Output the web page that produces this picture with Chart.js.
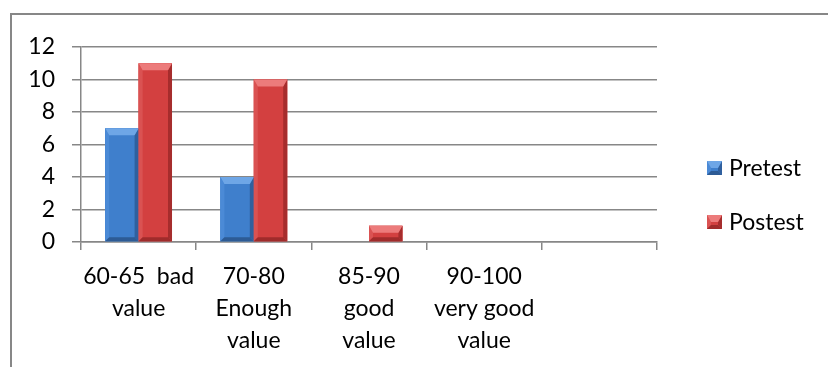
<!DOCTYPE html>
<html>
<head>
<meta charset="utf-8">
<script src="https://cdn.jsdelivr.net/npm/chart.js@4/dist/chart.umd.min.js"></script>
<style>
  html, body { margin: 0; padding: 0; background: #fff; }
  #wrap { position: relative; width: 828px; height: 367px; overflow: hidden; }
  #frame { position: absolute; left: 10px; top: 13px; width: 900px; height: 400px; border: 2px solid #878787; box-sizing: border-box; }
  canvas { position: absolute; left: 0; top: 0; }
</style>
</head>
<body>
<div id="wrap">
  <div id="frame"></div>
  <canvas id="chart" width="828" height="367"></canvas>
</div>
<script>
// chart data
const categories = [
    ['60-65  bad', 'value'],
    ['70-80', 'Enough', 'value'],
    ['85-90', 'good', 'value'],
    ['90-100', 'very good', 'value'],
    ''
];
const pretest = [7, 4, 0, 0, null];
const postest = [11, 10, 1, 0, null];
const yTicks = [0, 2, 4, 6, 8, 10, 12];

const FONT = 'Lato, "Open Sans", sans-serif';
const FONT_SIZE = 23;

// bevel palettes (body, top, left, right, bottom)
const blueBevel = { body: '#3f7fcc', top: '#6ea6e6', left: '#4b8ad6', right: '#30609e', bottom: '#2d5b95' };
const redBevel = { body: '#d34040', top: '#ec7b7b', left: '#da5252', right: '#a62d2d', bottom: '#a02b2b' };

function bevelRect(ctx, l, t, r, b, pal) {
    const h = b - t, w = r - l;
    if (h < 1 || w < 1) return;
    const bt = Math.min(7, h / 2, w / 2);
    const bs = Math.min(4, h / 2, w / 2);
    ctx.save();
    ctx.fillStyle = pal.body;
    ctx.fillRect(l, t, w, h);
    const poly = (pts, color) => {
        ctx.beginPath();
        ctx.moveTo(pts[0][0], pts[0][1]);
        pts.slice(1).forEach(p => ctx.lineTo(p[0], p[1]));
        ctx.closePath();
        ctx.fillStyle = color;
        ctx.fill();
    };
    poly([[l, t], [l + bs, t + bt], [l + bs, b - bs], [l, b]], pal.left);
    poly([[r, t], [r - bs, t + bt], [r - bs, b - bs], [r, b]], pal.right);
    poly([[l, b], [l + bs, b - bs], [r - bs, b - bs], [r, b]], pal.bottom);
    poly([[l, t], [r, t], [r - bs, t + bt], [l + bs, t + bt]], pal.top);
    ctx.restore();
}

const bevelBars = {
    id: 'bevelBars',
    afterDatasetsDraw(chart) {
        const ctx = chart.ctx;
        chart.data.datasets.forEach((ds, i) => {
            const meta = chart.getDatasetMeta(i);
            meta.data.forEach(bar => {
                if (bar.skip) return;
                const half = bar.width / 2;
                bevelRect(ctx, bar.x - half, Math.min(bar.y, bar.base), bar.x + half, Math.max(bar.y, bar.base), ds.bevel);
            });
        });
    }
};

// legend drawn to the right of the plot, Excel style
const sideLegend = {
    id: 'sideLegend',
    afterDraw(chart) {
        const ctx = chart.ctx;
        const x = chart.chartArea.right + 50;
        const rowGap = 54;
        const y0 = 168;
        ctx.save();
        ctx.font = FONT_SIZE + 'px ' + FONT;
        ctx.textBaseline = 'middle';
        chart.data.datasets.forEach((d, i) => {
            const cy = y0 + i * rowGap;
            bevelRect(ctx, x, cy - 7, x + 15, cy + 7, d.bevel);
            ctx.fillStyle = '#000';
            ctx.fillText(d.label, x + 22, cy + 1);
        });
        ctx.restore();
    }
};

new Chart(document.getElementById('chart'), {
    type: 'bar',
    data: {
        labels: categories,
        datasets: [
            { label: 'Pretest', data: pretest, backgroundColor: blueBevel.body, bevel: blueBevel },
            { label: 'Postest', data: postest, backgroundColor: redBevel.body, bevel: redBevel }
        ]
    },
    options: {
        responsive: false,
        animation: false,
        layout: { padding: { top: 47, right: 171, left: 0, bottom: 0 } },
        datasets: { bar: { categoryPercentage: 0.58, barPercentage: 1 } },
        plugins: {
            legend: { display: false },
            tooltip: { enabled: false }
        },
        scales: {
            x: {
                grid: { offset: true, drawOnChartArea: false, tickLength: 8, color: '#878787', lineWidth: 1.5 },
                border: { color: '#878787', width: 1.5 },
                ticks: { color: '#000', font: { family: FONT, size: FONT_SIZE, lineHeight: 32 / FONT_SIZE }, padding: 11, maxRotation: 0, autoSkip: false },
                afterFit: s => { s.height = 125; }
            },
            y: {
                min: 0, max: 12,
                afterBuildTicks: s => { s.ticks = yTicks.map(v => ({ value: v })); },
                grid: { tickLength: 9, color: '#878787', lineWidth: 1.5 },
                border: { color: '#878787', width: 1.5 },
                ticks: { color: '#000', font: { family: FONT, size: FONT_SIZE }, padding: 17 },
                afterFit: s => { s.width = 81; }
            }
        }
    },
    plugins: [bevelBars, sideLegend]
});
</script>
</body>
</html>
